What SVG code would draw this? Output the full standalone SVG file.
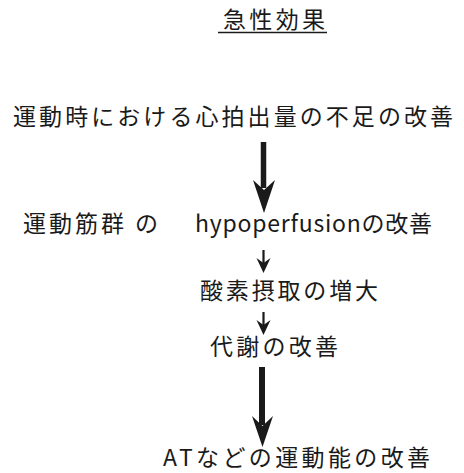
<svg xmlns="http://www.w3.org/2000/svg" width="464" height="473" viewBox="0 0 464 473">
<style>
text{font-family:"Noto Sans CJK JP","Noto Sans CJK SC",sans-serif;font-size:23px;fill:#1a1a1a}
.shaft{stroke:#1a1a1a;fill:none}
.head{fill:#1a1a1a}
</style>
<rect width="464" height="473" fill="#fff"/>
<g id="title">
<text x="223" y="28" textLength="102" lengthAdjust="spacing">急性効果</text>
<line x1="218" y1="32.5" x2="327" y2="32.5" stroke="#1a1a1a" stroke-width="1.5"/>
</g>
<g id="n1"><text x="13" y="125" font-size="24" textLength="440" lengthAdjust="spacing">運動時における心拍出量の不足の改善</text></g>
<g id="n2">
<text x="23" y="232" textLength="135" lengthAdjust="spacing">運動筋群 の</text>
<text x="195" y="232" textLength="237" lengthAdjust="spacing">hypoperfusionの改善</text>
</g>
<g id="n3"><text x="200" y="299" textLength="178" lengthAdjust="spacing">酸素摂取の増大</text></g>
<g id="n4"><text x="210" y="355" textLength="128" lengthAdjust="spacing">代謝の改善</text></g>
<g id="n5"><text x="163" y="466" font-size="22" textLength="267" lengthAdjust="spacing">ATなどの運動能の改善</text></g>
<g id="connectors">
<line class="shaft" x1="263.5" y1="142" x2="263.5" y2="188" stroke-width="5.5"/>
<path class="head" d="M264,213 L253,180 L264,190 L275,180 Z"/>
<line class="shaft" x1="263.5" y1="250" x2="263.5" y2="265" stroke-width="2.2"/>
<path class="head" d="M263.5,273 L256.5,258 L263.5,263 L270.5,258 Z"/>
<line class="shaft" x1="263.5" y1="312" x2="263.5" y2="327" stroke-width="2.2"/>
<path class="head" d="M263.5,335 L256.5,320 L263.5,325 L270.5,320 Z"/>
<line class="shaft" x1="262" y1="367" x2="262" y2="425" stroke-width="6"/>
<path class="head" d="M262.5,447 L252,416 L262.5,426 L273,416 Z"/>
</g>
</svg>
